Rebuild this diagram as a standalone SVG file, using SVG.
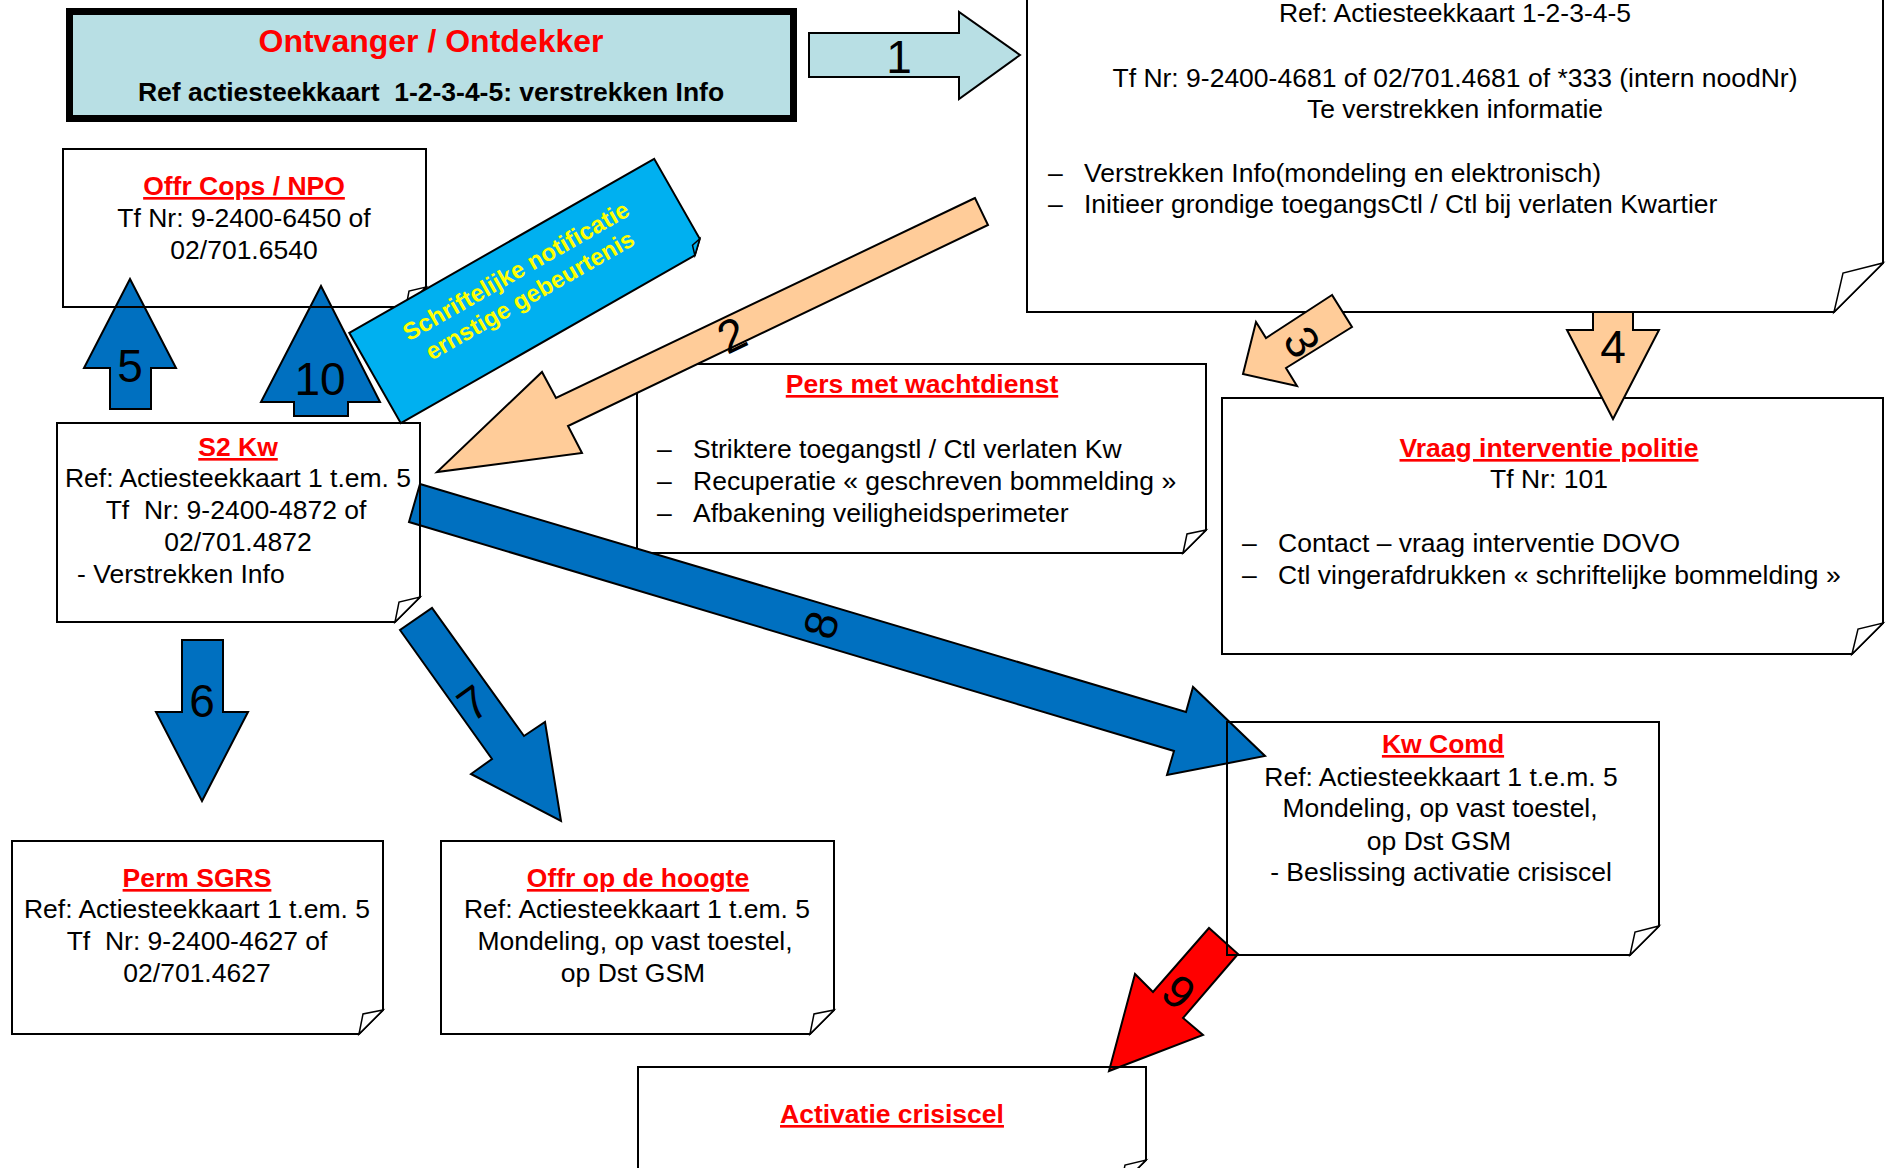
<svg xmlns="http://www.w3.org/2000/svg" width="1887" height="1168" viewBox="0 0 1887 1168">
<style>
.bx{fill:none;stroke:#000;stroke-width:2}
.fd{fill:#fff;stroke:#000;stroke-width:1.5;stroke-linejoin:miter}
.t{font-family:"Liberation Sans",Arial,sans-serif;font-size:26.5px;fill:#000}
.c{text-anchor:middle}
.ttl{font-weight:bold;fill:#f00;text-decoration:underline}
.num{font-family:"Liberation Sans",Arial,sans-serif;font-size:46px;fill:#000;text-anchor:middle}
.blue{fill:#0070C0;stroke:#000;stroke-width:2;stroke-linejoin:miter}
.peach{fill:#FFCC99;stroke:#000;stroke-width:2}
.red{fill:#FF0000;stroke:#000;stroke-width:2}
.aqua{fill:#B8DFE4;stroke:#000;stroke-width:2}
</style>
<rect width="1887" height="1168" fill="#fff"/>

<g id="ontvanger">
<rect x="69.5" y="11.5" width="724" height="107" fill="#B8DFE4" stroke="#000" stroke-width="7"/>
<text class="t" x="431" y="52" text-anchor="middle" style="font-size:32px;font-weight:bold;fill:#f00">Ontvanger / Ontdekker</text>
<text class="t" x="431" y="101" text-anchor="middle" style="font-weight:bold" xml:space="preserve">Ref actiesteekkaart  1-2-3-4-5: verstrekken Info</text>
</g>

<g id="ref-box">
<path class="bx" d="M1027 -5 H1883 V263 L1834 312 H1027 Z"/>
<path class="fd" d="M1834 312 L1843 273 L1883 263 Z"/>
<text class="t c" x="1455" y="22">Ref: Actiesteekkaart 1-2-3-4-5</text>
<text class="t c" x="1455" y="87">Tf Nr: 9-2400-4681 of 02/701.4681 of *333 (intern noodNr)</text>
<text class="t c" x="1455" y="118">Te verstrekken informatie</text>
<text class="t" x="1048" y="182">–</text><text class="t" x="1084" y="182">Verstrekken Info(mondeling en elektronisch)</text>
<text class="t" x="1048" y="213">–</text><text class="t" x="1084" y="213">Initieer grondige toegangsCtl / Ctl bij verlaten Kwartier</text>
</g>

<g id="pers">
<path class="bx" d="M637 364 H1206 V530 L1183 553 H637 Z"/>
<path class="fd" d="M1183 553 L1187 534 L1206 530 Z"/>
<text class="t c ttl" x="922" y="393">Pers met wachtdienst</text>
<text class="t" x="657" y="458">–</text><text class="t" x="693" y="458">Striktere toegangstl / Ctl verlaten Kw</text>
<text class="t" x="657" y="490">–</text><text class="t" x="693" y="490">Recuperatie « geschreven bommelding »</text>
<text class="t" x="657" y="522">–</text><text class="t" x="693" y="522">Afbakening veiligheidsperimeter</text>
</g>

<g id="vraag">
<path class="bx" d="M1222 398 H1883 V623 L1852 654 H1222 Z"/>
<path class="fd" d="M1852 654 L1858 629 L1883 623 Z"/>
<text class="t c ttl" x="1549" y="457">Vraag interventie politie</text>
<text class="t c" x="1549" y="488">Tf Nr: 101</text>
<text class="t" x="1242" y="552">–</text><text class="t" x="1278" y="552">Contact – vraag interventie DOVO</text>
<text class="t" x="1242" y="584">–</text><text class="t" x="1278" y="584">Ctl vingerafdrukken « schriftelijke bommelding »</text>
</g>

<g id="connectors">
<g id="arrow1"><polygon class="aqua" points="809,33 959,33 959,12 1020,55 959,99 959,77 809,77"/><text class="num" x="899" y="73">1</text></g>
<g id="arrow2"><polygon class="peach" points="975,198 556,398 542,372 437,472 582,453 568,426 988,225"/><text class="num" transform="translate(732,335) rotate(-25.6)" y="16">2</text></g>
<g id="arrow3"><polygon class="peach" points="1332,295 1266,338 1256,322 1243,374 1297,386 1286,368 1352,327"/><text class="num" transform="translate(1302,342) rotate(57.5)" y="16">3</text></g>
<g id="arrow4"><polygon class="peach" points="1593,312 1633,312 1633,330 1659,330 1613,419 1567,330 1593,330"/><text class="num" x="1613" y="363">4</text></g>
<g id="arrow5"><polygon class="blue" points="110,409 151,409 151,368 176,368 130,279 84,368 110,368"/><text class="num" x="130" y="382">5</text></g>
<g id="arrow10"><polygon class="blue" points="294,416 348,416 348,402 380,402 321,286 261,402 294,402"/><text class="num" x="320" y="395">10</text></g>
<g id="arrow6"><polygon class="blue" points="182,640 223,640 223,712 248,712 202,801 156,712 182,712"/><text class="num" x="202" y="717">6</text></g>
<g id="arrow7"><polygon class="blue" points="400,630 492,759 471,774 561,821 545,722 524,736 432,608"/><text class="num" transform="translate(473,703) rotate(-35.7)" y="16">7</text></g>
<g id="arrow8"><polygon class="blue" points="420,484 1186,712 1193,687 1265,756 1167,775 1174,751 409,522"/><text class="num" transform="translate(821,625) rotate(-73.3)" y="16">8</text></g>
<g id="arrow9"><polygon class="red" points="1209,928 1153,992 1135,974 1109,1071 1203,1035 1183,1018 1238,954"/><text class="num" transform="translate(1179,992) rotate(41.4)" y="16">9</text></g>
</g>

<g id="offr-cops">
<path class="bx" d="M63 149 H426 V287 L406 307 H63 Z"/>
<path class="fd" d="M406 307 L409 291 L426 287 Z"/>
<text class="t c ttl" x="244" y="195">Offr Cops / NPO</text>
<text class="t c" x="244" y="227">Tf Nr: 9-2400-6450 of</text>
<text class="t c" x="244" y="259">02/701.6540</text>
</g>

<g id="notificatie" transform="translate(527.5,291) rotate(-29.7)">
<path d="M-175.5 -52 H175.5 V40 L163 52 H-175.5 Z" fill="#00B0F0" stroke="#000" stroke-width="2"/>
<path d="M163 52 L166 42 L175.5 40 Z" fill="#00B0F0" stroke="#000" stroke-width="1.5"/>
<text class="t c" x="0" y="-15" style="font-size:24px;font-weight:bold;fill:#FFFF00">Schriftelijke notificatie</text>
<text class="t c" x="0" y="13" style="font-size:24px;font-weight:bold;fill:#FFFF00">ernstige gebeurtenis</text>
</g>

<g id="s2kw">
<path class="bx" d="M57 423 H420 V597 L395 622 H57 Z"/>
<path class="fd" d="M395 622 L399 602 L420 597 Z"/>
<text class="t c ttl" x="238" y="456">S2 Kw</text>
<text class="t c" x="238" y="487">Ref: Actiesteekkaart 1 t.em. 5</text>
<text class="t c" x="236" y="519" xml:space="preserve">Tf  Nr: 9-2400-4872 of</text>
<text class="t c" x="238" y="551">02/701.4872</text>
<text class="t" x="77" y="583">- Verstrekken Info</text>
</g>

<g id="kwcomd">
<path class="bx" d="M1227 722 H1659 V926 L1630 955 H1227 Z"/>
<path class="fd" d="M1630 955 L1635 932 L1659 926 Z"/>
<text class="t c ttl" x="1443" y="753">Kw Comd</text>
<text class="t c" x="1441" y="786">Ref: Actiesteekkaart 1 t.e.m. 5</text>
<text class="t c" x="1440" y="817">Mondeling, op vast toestel,</text>
<text class="t c" x="1439" y="850">op Dst GSM</text>
<text class="t c" x="1441" y="881">- Beslissing activatie crisiscel</text>
</g>

<g id="perm-sgrs">
<path class="bx" d="M12 841 H383 V1010 L359 1034 H12 Z"/>
<path class="fd" d="M359 1034 L363 1014 L383 1010 Z"/>
<text class="t c ttl" x="197" y="887">Perm SGRS</text>
<text class="t c" x="197" y="918">Ref: Actiesteekkaart 1 t.em. 5</text>
<text class="t c" x="197" y="950" xml:space="preserve">Tf  Nr: 9-2400-4627 of</text>
<text class="t c" x="197" y="982">02/701.4627</text>
</g>

<g id="offr-hoogte">
<path class="bx" d="M441 841 H834 V1010 L810 1034 H441 Z"/>
<path class="fd" d="M810 1034 L814 1014 L834 1010 Z"/>
<text class="t c ttl" x="638" y="887">Offr op de hoogte</text>
<text class="t c" x="637" y="918">Ref: Actiesteekkaart 1 t.em. 5</text>
<text class="t c" x="635" y="950">Mondeling, op vast toestel,</text>
<text class="t c" x="633" y="982">op Dst GSM</text>
</g>

<g id="activatie">
<path class="bx" d="M638 1067 H1146 V1160 L1121 1185 H638 Z"/>
<path class="fd" d="M1121 1185 L1125 1165 L1146 1160 Z"/>
<text class="t c ttl" x="892" y="1123">Activatie crisiscel</text>
</g>
</svg>
